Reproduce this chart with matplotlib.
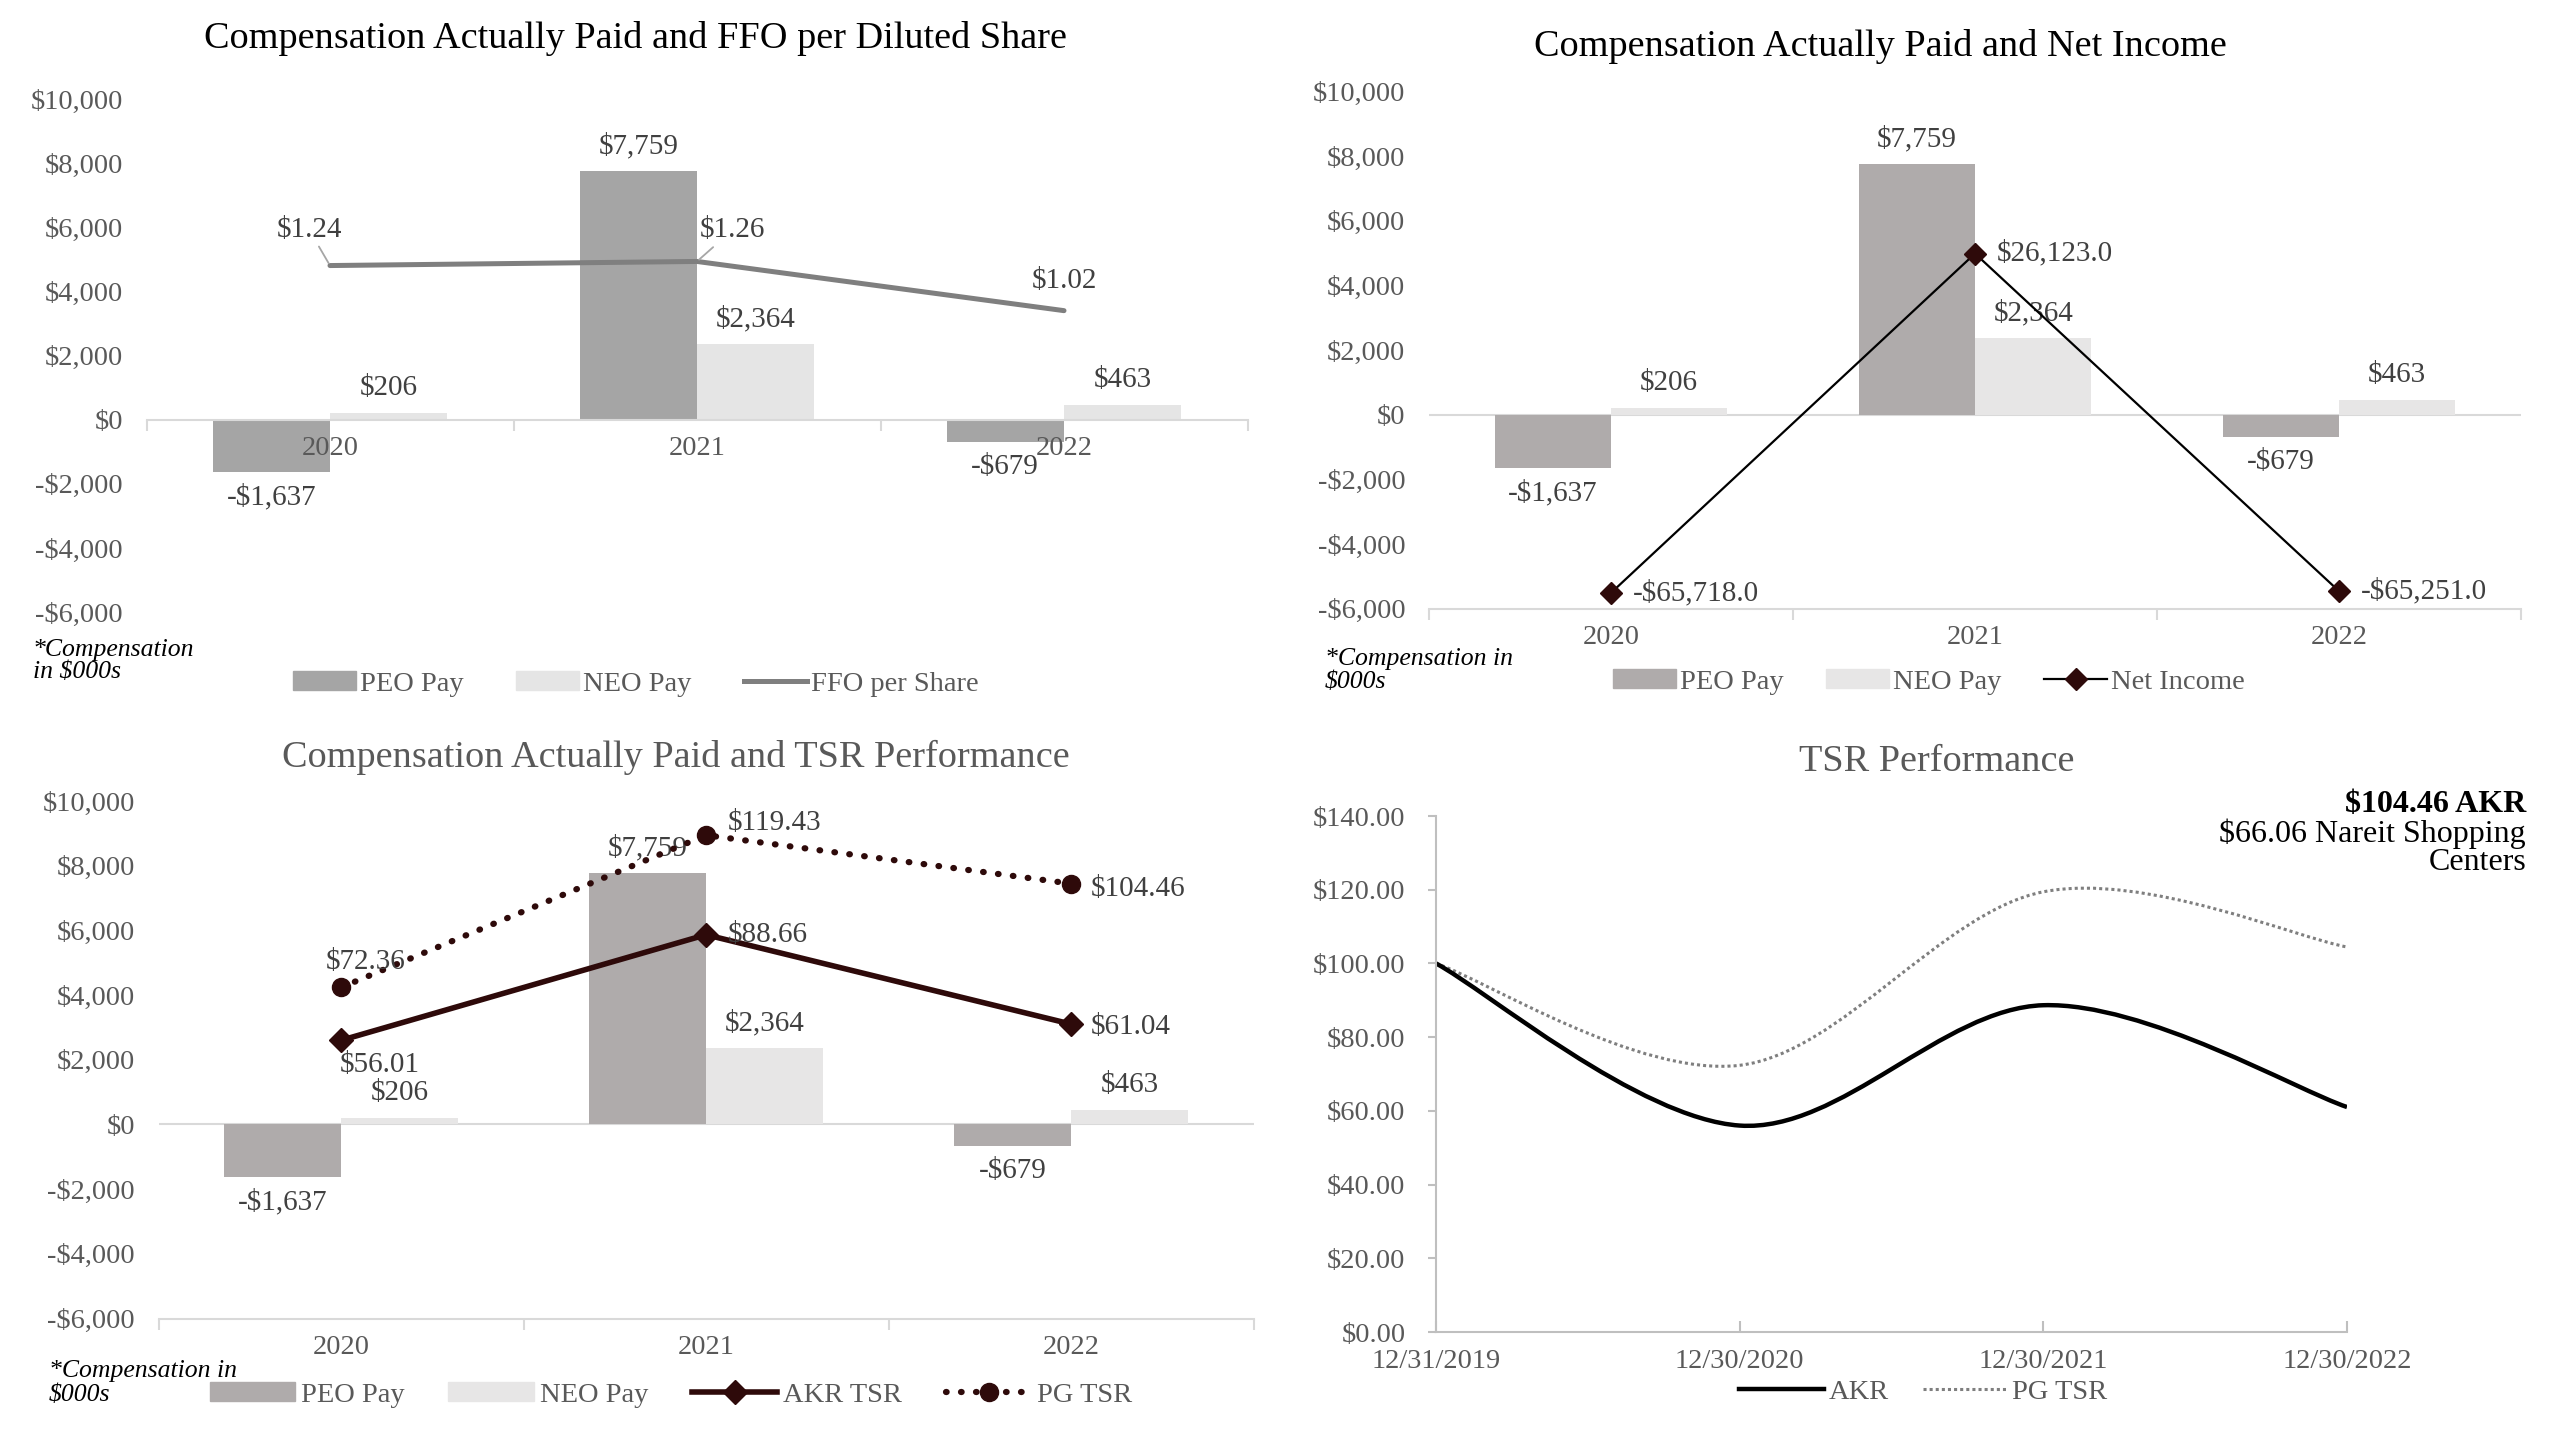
import numpy as np
import matplotlib.pyplot as plt
from matplotlib.patches import Patch, PathPatch
from matplotlib.lines import Line2D
from matplotlib.path import Path
from matplotlib.ticker import FuncFormatter

plt.rcParams['font.family'] = ['Liberation Serif', 'DejaVu Serif']
plt.rcParams['text.parse_math'] = False

years = ['2020', '2021', '2022']
peo_pay = [-1637, 7759, -679]
neo_pay = [206, 2364, 463]
ffo_per_share = [1.24, 1.26, 1.02]
net_income = [-65718.0, 26123.0, -65251.0]
akr_tsr = [56.01, 88.66, 61.04]
pg_tsr = [72.36, 119.43, 104.46]

tsr_dates = ['12/31/2019', '12/30/2020', '12/30/2021', '12/30/2022']
akr_curve = [100.0, 56.01, 88.66, 61.04]
pg_curve = [100.0, 72.36, 119.43, 104.46]

GRID = '#d9d9d9'
TXT = '#595959'
LAB = '#404040'
DARK = '#2e0a0a'
FS = 20.5   # ticks / legends
LFS = 21    # data labels
TFS = 27.5  # titles


def money(v, dec=0):
    s = f"${abs(v):,.{dec}f}"
    return '-' + s if v < 0 else s


def bar_panel(ax, peo_color, neo_color, axis_at_zero):
    x = np.arange(len(years))
    w = 0.32
    ax.bar(x - w / 2, peo_pay, w, color=peo_color, zorder=2)
    ax.bar(x + w / 2, neo_pay, w, color=neo_color, zorder=2)
    ax.set_axisbelow(False)
    ax.set_xlim(-0.5, 2.5)
    ax.set_ylim(-6000, 10000)
    ax.set_yticks(range(-6000, 10001, 2000))
    ax.yaxis.set_major_formatter(FuncFormatter(lambda v, p: money(v)))
    ax.tick_params(axis='y', length=0, pad=17, labelsize=FS, labelcolor=TXT)
    for s in ['left', 'right', 'top']:
        ax.spines[s].set_visible(False)
    ax.spines['bottom'].set_color(GRID)
    ax.spines['bottom'].set_linewidth(1.5)
    ax.set_xticks(x, years)
    ax.set_xticks([-0.5, 0.5, 1.5, 2.5], minor=True)
    ax.tick_params(axis='x', which='major', length=0, labelsize=FS, labelcolor=TXT, pad=12)
    ax.tick_params(axis='x', which='minor', length=8, width=1.5, color=GRID)
    if axis_at_zero:
        ax.spines['bottom'].set_position(('data', 0))
    else:
        ax.axhline(0, color=GRID, lw=1.5, zorder=1)
    for xi, v in zip(x - w / 2, peo_pay):
        ax.annotate(money(v), (xi, v), xytext=(0, 25 if v >= 0 else -25),
                    textcoords='offset pixels', ha='center', va='center',
                    fontsize=LFS, color=LAB, zorder=5)
    for xi, v in zip(x + w / 2, neo_pay):
        ax.annotate(money(v), (xi, v), xytext=(0, 25 if v >= 0 else -25),
                    textcoords='offset pixels', ha='center', va='center',
                    fontsize=LFS, color=LAB, zorder=5)


def twin(ax, lo, hi):
    a2 = ax.twinx()
    a2.set_ylim(lo, hi)
    a2.set_yticks([])
    for s in a2.spines.values():
        s.set_visible(False)
    return a2


def smooth_path(xs, ys):
    # Excel-style smoothed line: cubic Bezier segments through the data points
    pts = np.column_stack([xs, ys]).astype(float)
    n = len(pts)
    verts = [pts[0]]
    codes = [Path.MOVETO]
    for i in range(n - 1):
        p0 = pts[max(i - 1, 0)]
        p1 = pts[i]
        p2 = pts[i + 1]
        p3 = pts[min(i + 2, n - 1)]
        verts += [p1 + (p2 - p0) / 6, p2 - (p3 - p1) / 6, p2]
        codes += [Path.CURVE4] * 3
    return Path(verts, codes)


def note(x, y1, y2, l1, l2):
    fig.text(x / 2559, 1 - y1 / 1430, l1, ha='left', va='center',
             fontsize=18.5, style='italic', color='black')
    fig.text(x / 2559, 1 - y2 / 1430, l2, ha='left', va='center',
             fontsize=18.5, style='italic', color='black')


fig = plt.figure(figsize=(25.59, 14.30), dpi=100)

# --- panel 1: FFO per share
ax1 = fig.add_axes([146.5 / 2559, 1 - 612 / 1430, 1101 / 2559, 512.5 / 1430])
bar_panel(ax1, '#a5a5a5', '#e5e5e5', True)
ax1b = twin(ax1, -0.45, 2.05)
ax1b.plot(range(3), ffo_per_share, color='#7f7f7f', lw=3.6, solid_capstyle='round')
ffo_off = [(-21, 36), (35, 31), (0, 30)]
for i, (v, off) in enumerate(zip(ffo_per_share, ffo_off)):
    ap = dict(arrowstyle='-', color='#a6a6a6', lw=1.3, shrinkA=1, shrinkB=2) if i < 2 else None
    ax1b.annotate(f"${v:.2f}", (i, v), xytext=off, textcoords='offset pixels',
                  ha='center', va='center', fontsize=LFS, color=LAB, arrowprops=ap)
fig.text(635 / 2559, 1 - 39 / 1430, 'Compensation Actually Paid and FFO per Diluted Share',
         ha='center', va='center', fontsize=TFS, color='black')
note(33, 650, 672, '*Compensation', 'in $000s')
fig.legend([Patch(color='#a5a5a5'), Patch(color='#e5e5e5'),
            Line2D([], [], color='#7f7f7f', lw=3.6)],
           ['PEO Pay', 'NEO Pay', 'FFO per Share'], loc='center',
           bbox_to_anchor=(636 / 2559, 1 - 684 / 1430), ncol=3, frameon=False,
           fontsize=FS, labelcolor=TXT, handlelength=2.2, handleheight=0.6,
           handletextpad=0.15, columnspacing=1.85)

# --- panel 2: net income
ax2 = fig.add_axes([1429 / 2559, 1 - 608.7 / 1430, 1092 / 2559, 517.3 / 1430])
bar_panel(ax2, '#afabab', '#e7e6e6', False)
ax2b = twin(ax2, -70000, 70000)
ax2b.plot(range(3), net_income, color='black', lw=1.6, marker='D', ms=11,
          mfc=DARK, mec=DARK)
for i, v in enumerate(net_income):
    ax2b.annotate(money(v, 1), (i, v), xytext=(22, 0), textcoords='offset pixels',
                  ha='left', va='center', fontsize=LFS, color=LAB)
fig.text(1880 / 2559, 1 - 47 / 1430, 'Compensation Actually Paid and Net Income',
         ha='center', va='center', fontsize=TFS, color='black')
note(1325, 659, 682, '*Compensation in', '$000s')
fig.legend([Patch(color='#afabab'), Patch(color='#e7e6e6'),
            Line2D([], [], color='black', lw=1.6, marker='D', ms=11, mfc=DARK, mec=DARK)],
           ['PEO Pay', 'NEO Pay', 'Net Income'], loc='center',
           bbox_to_anchor=(1929 / 2559, 1 - 682 / 1430), ncol=3, frameon=False,
           fontsize=FS, labelcolor=TXT, handlelength=2.2, handleheight=0.6,
           handletextpad=0.15, columnspacing=1.5)

# --- panel 3: TSR vs pay
ax3 = fig.add_axes([158.5 / 2559, 1 - 1318.6 / 1430, 1095 / 2559, 517.6 / 1430])
bar_panel(ax3, '#afabab', '#e7e6e6', False)
ax3b = twin(ax3, -30, 130)
ax3b.plot(range(3), akr_tsr, color=DARK, lw=4, marker='D', ms=12,
          mfc=DARK, mec=DARK)
ax3b.plot(range(3), pg_tsr, color=DARK, lw=4.5, ls=(0, (0.1, 2.3)),
          dash_capstyle='round', marker='o', ms=13, mfc=DARK, mec=DARK)
akr_off = [(39, -25, 'center'), (22, 0, 'left'), (20, -3, 'left')]
pg_off = [(25, 25, 'center'), (22, 12, 'left'), (20, -5, 'left')]
for i, (v, (dx, dy, ha)) in enumerate(zip(akr_tsr, akr_off)):
    ax3b.annotate(f"${v:.2f}", (i, v), xytext=(dx, dy), textcoords='offset pixels',
                  ha=ha, va='center', fontsize=LFS, color=LAB)
for i, (v, (dx, dy, ha)) in enumerate(zip(pg_tsr, pg_off)):
    ax3b.annotate(f"${v:.2f}", (i, v), xytext=(dx, dy), textcoords='offset pixels',
                  ha=ha, va='center', fontsize=LFS, color=LAB)
fig.text(676 / 2559, 1 - 757 / 1430, 'Compensation Actually Paid and TSR Performance',
         ha='center', va='center', fontsize=TFS, color=TXT)
note(49, 1371, 1395, '*Compensation in', '$000s')
fig.legend([Patch(color='#afabab'), Patch(color='#e7e6e6'),
            Line2D([], [], color=DARK, lw=4, marker='D', ms=12, mfc=DARK, mec=DARK),
            Line2D([], [], color=DARK, lw=4.5, ls=(0, (0.1, 2.3)), dash_capstyle='round',
                   marker='o', ms=13, mfc=DARK, mec=DARK)],
           ['PEO Pay', 'NEO Pay', 'AKR TSR', 'PG TSR'], loc='center',
           bbox_to_anchor=(671 / 2559, 1 - 1395 / 1430), ncol=4, frameon=False,
           fontsize=FS, labelcolor=TXT, handlelength=3.0, handleheight=0.6,
           handletextpad=0.2, columnspacing=1.55)

# --- panel 4: TSR performance
ax4 = fig.add_axes([1436 / 2559, 1 - 1332 / 1430, 911 / 2559, 516 / 1430])
xs = np.arange(len(tsr_dates))
ax4.add_patch(PathPatch(smooth_path(xs, pg_curve), facecolor='none',
                        edgecolor='#7f7f7f', lw=2.2, ls=(0, (1, 1))))
ax4.add_patch(PathPatch(smooth_path(xs, akr_curve), facecolor='none',
                        edgecolor='black', lw=3.2))
ax4.set_xlim(0, 3)
ax4.set_ylim(0, 140)
ax4.set_yticks(range(0, 141, 20))
ax4.yaxis.set_major_formatter(FuncFormatter(lambda v, p: f"${v:.2f}"))
ax4.set_xticks(xs, tsr_dates)
for s in ['right', 'top']:
    ax4.spines[s].set_visible(False)
for s in ['left', 'bottom']:
    ax4.spines[s].set_color('#bfbfbf')
    ax4.spines[s].set_linewidth(1.5)
ax4.tick_params(axis='y', length=6, width=1.5, color='#bfbfbf', pad=16,
                labelsize=FS, labelcolor=TXT)
ax4.tick_params(axis='x', direction='in', length=8, width=1.5, color='#bfbfbf',
                pad=12, labelsize=FS, labelcolor=TXT)
fig.text(1937 / 2559, 1 - 762 / 1430, 'TSR Performance', ha='center', va='center',
         fontsize=TFS, color=TXT)
fig.text(2526 / 2559, 1 - 805 / 1430, '$104.46 AKR', ha='right', va='center',
         fontsize=23, weight='bold', color='black')
fig.text(2526 / 2559, 1 - 834 / 1430, '$66.06 Nareit Shopping', ha='right', va='center',
         fontsize=23, color='black')
fig.text(2526 / 2559, 1 - 862 / 1430, 'Centers', ha='right', va='center',
         fontsize=23, color='black')
fig.legend([Line2D([], [], color='black', lw=3.2),
            Line2D([], [], color='#7f7f7f', lw=2.2, ls=(0, (1, 1)))],
           ['AKR', 'PG TSR'], loc='center',
           bbox_to_anchor=(1923 / 2559, 1 - 1392 / 1430), ncol=2, frameon=False,
           fontsize=FS, labelcolor=TXT, handlelength=3.0, handletextpad=0.15,
           columnspacing=1.2)

fig.savefig('out.png', dpi=100)
